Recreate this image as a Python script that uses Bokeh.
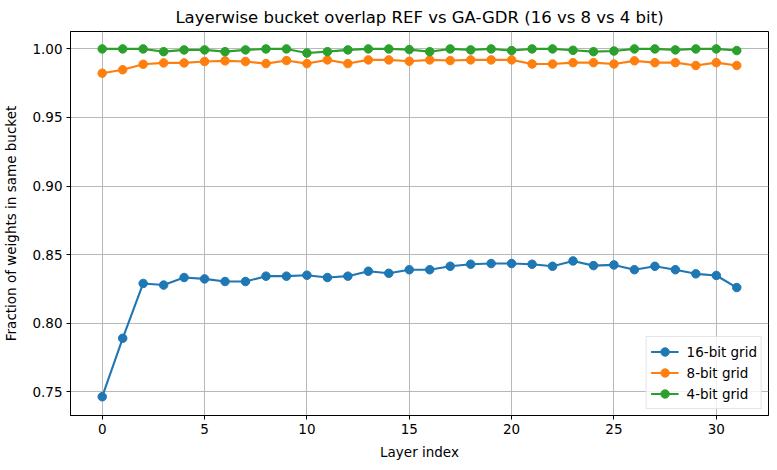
from bokeh.plotting import figure
from bokeh.models import FixedTicker, PrintfTickFormatter, Range1d, Legend, LegendItem
from bokeh.embed import file_html
from bokeh.resources import INLINE

layers = list(range(32))
bit16 = [0.7464, 0.789, 0.829, 0.8278, 0.8333, 0.8323, 0.8304, 0.8304, 0.8343, 0.8343,
         0.835, 0.8333, 0.8343, 0.8379, 0.8364, 0.8390, 0.8390, 0.8415, 0.843, 0.8435,
         0.8435, 0.843, 0.8415, 0.8454, 0.842, 0.8425, 0.839, 0.8415, 0.839, 0.836,
         0.8348, 0.826]
bit8 = [0.9823, 0.9848, 0.9888, 0.9898, 0.9898, 0.9908, 0.9913, 0.9908, 0.9893, 0.9915,
        0.9893, 0.992, 0.9893, 0.992, 0.992, 0.991, 0.992, 0.9915, 0.992, 0.992,
        0.992, 0.989, 0.989, 0.990, 0.990, 0.989, 0.9913, 0.990, 0.990, 0.9879,
        0.990, 0.9879]
bit4 = [1.0, 1.0, 1.0, 0.998, 0.9993, 0.9993, 0.998, 0.9993, 1.0, 1.0,
        0.997, 0.998, 0.9993, 1.0, 1.0, 0.9995, 0.998, 1.0, 0.9993, 1.0,
        0.9988, 1.0, 1.0, 0.999, 0.998, 0.9985, 1.0, 1.0, 0.9993, 1.0,
        1.0, 0.9988]
series_labels = ["16-bit grid", "8-bit grid", "4-bit grid"]
colors = ["#1f77b4", "#ff7f0e", "#2ca02c"]
yticks = [0.75, 0.80, 0.85, 0.90, 0.95, 1.00]
xticks = [0, 5, 10, 15, 20, 25, 30]

FONT = "DejaVu Sans"

p = figure(frame_width=698, frame_height=384, output_backend="svg", toolbar_location=None,
           x_range=Range1d(-1.55, 32.55), y_range=Range1d(0.7327, 1.0127),
           min_border_left=0, min_border_right=1, min_border_top=0, min_border_bottom=0)

p.title.text = "Layerwise bucket overlap REF vs GA-GDR (16 vs 8 vs 4 bit)"
p.title.align = "center"
p.title.text_font = FONT
p.title.text_font_size = "16.5px"
p.title.text_font_style = "normal"
p.title.text_color = "black"
p.title.standoff = 10

items = []
for ys, lab, c in zip([bit16, bit8, bit4], series_labels, colors):
    l = p.line(layers, ys, line_color=c, line_width=2.1)
    s = p.scatter(layers, ys, size=8.5, fill_color=c, line_color=c)
    items.append(LegendItem(label=lab, renderers=[l, s]))

legend = Legend(items=items, location="bottom_right")
legend.label_text_font = FONT
legend.label_text_font_size = "13.5px"
legend.label_text_color = "black"
legend.border_line_color = "#cccccc"
legend.border_line_width = 1
legend.background_fill_alpha = 0.8
legend.glyph_width = 28
legend.spacing = 0
legend.padding = 4
legend.margin = 6
legend.label_standoff = 8
legend.label_height = 21
legend.glyph_height = 21
p.add_layout(legend)

for ax in (p.xaxis[0], p.yaxis[0]):
    ax.axis_label_text_font = FONT
    ax.axis_label_text_font_style = "normal"
    ax.axis_label_text_font_size = "13.5px"
    ax.axis_label_text_color = "black"
    ax.major_label_text_font = FONT
    ax.major_label_text_font_size = "13.5px"
    ax.major_tick_in = 0
    ax.major_tick_out = 4
    ax.minor_tick_in = 0
    ax.minor_tick_out = 0
    ax.axis_line_color = "black"
    ax.major_tick_line_color = "black"
    ax.major_label_text_color = "black"
    ax.major_label_standoff = 4

p.yaxis.axis_label_standoff = 10
p.xaxis.axis_label_standoff = 7

p.xaxis.axis_label = "Layer index"
p.yaxis.axis_label = "Fraction of weights in same bucket"
p.xaxis.ticker = FixedTicker(ticks=xticks)
p.yaxis.ticker = FixedTicker(ticks=yticks)
p.yaxis.formatter = PrintfTickFormatter(format="%.2f")

p.grid.grid_line_color = "#b0b0b0"
p.grid.grid_line_width = 0.9
p.outline_line_color = "black"
p.outline_line_width = 1

open("out.html", "w").write(file_html(p, INLINE))
